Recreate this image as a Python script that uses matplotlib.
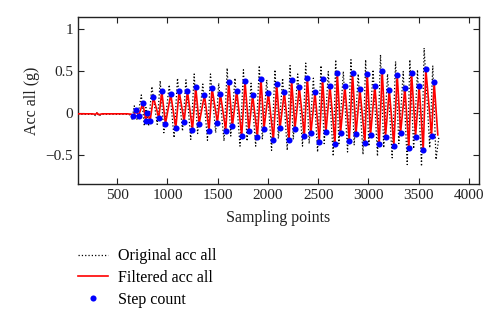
import matplotlib
matplotlib.use("Agg")
import matplotlib.pyplot as plt

plt.rcParams['font.family'] = ['Liberation Serif', 'DejaVu Serif']

# Filtered signal extremes (sampling point, acc in g)
filt_x = [110, 250, 285, 300, 315, 350, 600, 640,
          662, 685, 712, 755, 785, 801, 828, 861, 914, 944, 980, 1033, 1083, 1116,
          1166, 1199, 1249, 1282, 1315, 1368, 1414, 1444, 1497, 1527, 1580, 1610,
          1646, 1689, 1739, 1772, 1810, 1848, 1895, 1931, 1961, 2004, 2054, 2087,
          2120, 2163, 2210, 2236, 2269, 2312, 2362, 2392, 2428, 2468, 2511, 2544,
          2577, 2617, 2667, 2690, 2723, 2766, 2809, 2842, 2876, 2915, 2965, 2988,
          3021, 3064, 3107, 3137, 3170, 3207, 3253, 3286, 3320, 3363, 3402, 3429,
          3469, 3505, 3545, 3571, 3628, 3654, 3690]
filt_y = [-0.015, -0.015, -0.02, -0.005, -0.025, -0.015, -0.015, -0.02,
          -0.040, 0.032, -0.040, 0.111, -0.095, 0.0, -0.095, 0.183, -0.063, 0.254,
          -0.135, 0.218, -0.187, 0.258, -0.107, 0.254, -0.202, 0.302, -0.135, 0.210,
          -0.214, 0.294, -0.123, 0.222, -0.214, 0.365, -0.163, 0.262, -0.278, 0.373,
          -0.218, 0.210, -0.286, 0.397, -0.190, 0.238, -0.325, 0.341, -0.187, 0.246,
          -0.325, 0.385, -0.190, 0.302, -0.278, 0.417, -0.238, 0.242, -0.345, 0.397,
          -0.234, 0.321, -0.373, 0.476, -0.238, 0.317, -0.341, 0.468, -0.254, 0.282,
          -0.365, 0.464, -0.266, 0.321, -0.377, 0.500, -0.286, 0.274, -0.393, 0.452,
          -0.238, 0.294, -0.425, 0.476, -0.286, 0.317, -0.448, 0.520, -0.278, 0.361,
          -0.266]

# Step count markers (detected extremes)
step_x = filt_x[8:-1]
step_y = filt_y[8:-1]

# Original (unfiltered) signal extremes
orig_x = [110, 250, 285, 300, 315, 350, 600, 640,
          648, 670, 698, 740, 770, 786, 812, 845, 898, 928, 964, 1018, 1066, 1100,
          1150, 1184, 1232, 1266, 1300, 1352, 1398, 1428, 1480, 1510, 1563, 1594,
          1630, 1672, 1722, 1756, 1792, 1832, 1878, 1914, 1944, 1988, 2036, 2070,
          2104, 2146, 2192, 2220, 2252, 2296, 2344, 2376, 2410, 2452, 2494, 2528,
          2560, 2600, 2650, 2674, 2706, 2750, 2792, 2826, 2858, 2898, 2946, 2972,
          3004, 3046, 3090, 3120, 3152, 3190, 3236, 3270, 3302, 3346, 3386, 3412,
          3450, 3488, 3528, 3554, 3610, 3640, 3672, 3700]
orig_y = [-0.02, -0.02, -0.035, 0.005, -0.04, -0.02, -0.02, -0.03,
          -0.08, 0.08, -0.09, 0.21, -0.16, 0.06, -0.16, 0.31, -0.14, 0.38,
          -0.24, 0.33, -0.30, 0.41, -0.22, 0.39, -0.32, 0.46, -0.25, 0.34,
          -0.33, 0.46, -0.24, 0.35, -0.34, 0.53, -0.28, 0.41, -0.40, 0.51,
          -0.34, 0.35, -0.40, 0.56, -0.32, 0.39, -0.45, 0.51, -0.31, 0.41,
          -0.45, 0.56, -0.32, 0.46, -0.40, 0.59, -0.37, 0.41, -0.47, 0.56,
          -0.37, 0.49, -0.52, 0.63, -0.37, 0.49, -0.47, 0.63, -0.39, 0.46,
          -0.50, 0.63, -0.40, 0.51, -0.52, 0.69, -0.42, 0.46, -0.54, 0.61,
          -0.37, 0.49, -0.62, 0.63, -0.43, 0.51, -0.64, 0.77, -0.42, 0.56,
          -0.56, -0.30]

x_ticks = [500, 1000, 1500, 2000, 2500, 3000, 3500, 4000]
y_ticks = [-0.5, 0, 0.5, 1]
y_ticklabels = ['\u22120.5', '0', '0.5', '1']

fig = plt.figure(figsize=(5.0, 3.26), dpi=100)
ax = fig.add_axes([0.156, 0.436, 0.802, 0.512])

ax.plot(orig_x, orig_y, linestyle=':', color='black', linewidth=0.9,
        label='Original acc all', zorder=2)
ax.plot(filt_x, filt_y, linestyle='-', color='red', linewidth=1.2,
        label='Filtered acc all', zorder=3)
ax.plot(step_x, step_y, linestyle='none', marker='o', color='blue',
        markersize=4.4, markeredgewidth=0, label='Step count', zorder=4)

ax.set_xlim(110, 4100)
ax.set_ylim(-0.85, 1.14)
ax.set_xticks(x_ticks)
ax.set_yticks(y_ticks)
ax.set_yticklabels(y_ticklabels)
ax.tick_params(direction='in', top=True, right=True, labelsize=11,
               length=4, width=0.8, colors='#222222')
for s in ax.spines.values():
    s.set_linewidth(1.0)
    s.set_color('#222222')

ax.set_xlabel('Sampling points', fontsize=11.5, color='#222222', labelpad=6)
ax.set_ylabel('Acc all (g)', fontsize=11.5, color='#222222', labelpad=4)

fig.legend(loc='upper left', bbox_to_anchor=(0.156, 0.238), frameon=False,
           fontsize=11.5, borderpad=0, borderaxespad=0, handlelength=1.9,
           handletextpad=0.6, labelspacing=0.35)

fig.savefig('out.png', dpi=100)
